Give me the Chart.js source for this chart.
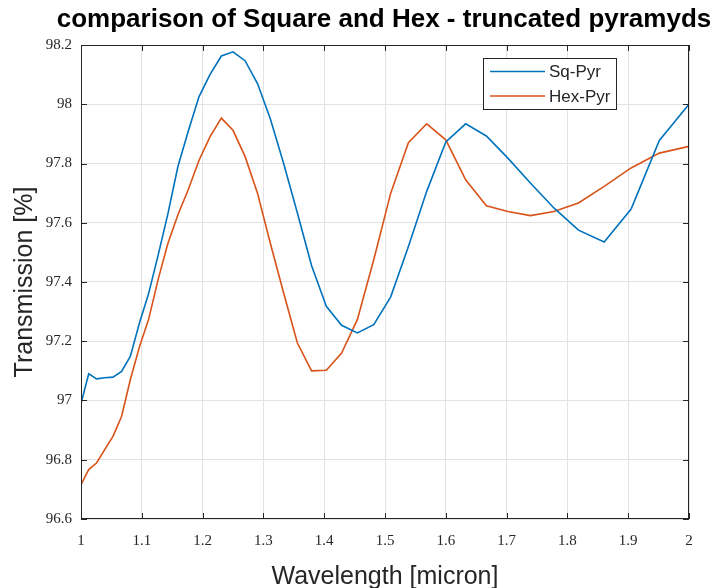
<!DOCTYPE html>
<html>
<head>
<meta charset="utf-8">
<title>comparison of Square and Hex - truncated pyramyds</title>
<script src="https://cdn.jsdelivr.net/npm/chart.js@4.4.1/dist/chart.umd.min.js"></script>
<style>
  html, body { margin: 0; padding: 0; background: #fff; }
  #wrap { width: 716px; height: 588px; }
</style>
</head>
<body>
<div id="wrap"><canvas id="transChart" width="716" height="588"></canvas></div>
<script>
// wavelength samples (micron)
const wavelength = [1.000, 1.0127, 1.0256, 1.0390, 1.0526, 1.0667, 1.0811, 1.0959, 1.1111, 1.1268,
    1.1429, 1.1594, 1.1765, 1.1940, 1.2121, 1.2308, 1.2500, 1.2698, 1.2903, 1.3115,
    1.3333, 1.3559, 1.3793, 1.4035, 1.4286, 1.4545, 1.4815, 1.5094, 1.5385, 1.5686,
    1.6000, 1.6327, 1.6667, 1.7021, 1.7391, 1.7778, 1.8182, 1.8605, 1.9048, 1.9512, 2.000];

// transmission [%] for the square pyramids
const sqPyr = [96.99, 97.09, 97.073, 97.077, 97.079, 97.098, 97.149, 97.26, 97.36, 97.49,
    97.63, 97.79, 97.91, 98.025, 98.10, 98.163, 98.177, 98.147, 98.07, 97.95,
    97.80, 97.633, 97.455, 97.318, 97.254, 97.228, 97.256, 97.35, 97.52, 97.706,
    97.873, 97.934, 97.893, 97.818, 97.734, 97.65, 97.575, 97.535, 97.646, 97.878, 98.0];

// transmission [%] for the hexagonal pyramids
const hexPyr = [96.716, 96.767, 96.789, 96.834, 96.879, 96.946, 97.07, 97.18, 97.273, 97.408,
    97.53, 97.627, 97.712, 97.81, 97.89, 97.953, 97.912, 97.824, 97.70, 97.53,
    97.363, 97.194, 97.10, 97.102, 97.16, 97.273, 97.475, 97.70, 97.87, 97.934,
    97.88, 97.745, 97.657, 97.638, 97.624, 97.638, 97.667, 97.723, 97.785, 97.835, 97.858];

const seriesNames = ['Sq-Pyr', 'Hex-Pyr'];
const seriesColors = ['#0072BD', '#D95319'];

const xTickValues = [1, 1.1, 1.2, 1.3, 1.4, 1.5, 1.6, 1.7, 1.8, 1.9, 2];
const xTickLabels = ['1', '1.1', '1.2', '1.3', '1.4', '1.5', '1.6', '1.7', '1.8', '1.9', '2'];
const yTickValues = [96.6, 96.8, 97, 97.2, 97.4, 97.6, 97.8, 98, 98.2];
const yTickLabels = ['96.6', '96.8', '97', '97.2', '97.4', '97.6', '97.8', '98', '98.2'];

const axisColor = '#262626';
const gridColor = '#e3e3e3';
const tickFont = { family: '"Liberation Serif", "DejaVu Serif", serif', size: 15 };

function toPoints(values) {
    return wavelength.map((w, i) => ({ x: w, y: values[i] }));
}

// Title, box frame, inward tick marks and the boxed legend
const matlabAxes = {
    id: 'matlabAxes',
    afterDraw(chart) {
        const { ctx, chartArea: a, scales: { x, y } } = chart;
        ctx.save();

        // title
        ctx.fillStyle = '#000';
        ctx.font = 'bold 26px "Liberation Sans", Arial, sans-serif';
        ctx.textAlign = 'center';
        ctx.textBaseline = 'middle';
        ctx.fillText('comparison of Square and Hex - truncated pyramyds', (a.left + a.right) / 2 - 1, 20);

        // frame
        ctx.strokeStyle = axisColor;
        ctx.lineWidth = 1;
        ctx.strokeRect(a.left + 0.5, a.top + 0.5, a.right - a.left - 1, a.bottom - a.top - 1);

        // inward ticks
        const tl = 6;
        ctx.beginPath();
        xTickValues.forEach(v => {
            const px = Math.round(x.getPixelForValue(v)) + 0.5;
            ctx.moveTo(px, a.bottom); ctx.lineTo(px, a.bottom - tl);
            ctx.moveTo(px, a.top); ctx.lineTo(px, a.top + tl);
        });
        yTickValues.forEach(v => {
            const py = Math.round(y.getPixelForValue(v)) + 0.5;
            ctx.moveTo(a.left, py); ctx.lineTo(a.left + tl, py);
            ctx.moveTo(a.right, py); ctx.lineTo(a.right - tl, py);
        });
        ctx.stroke();

        // legend box
        const bx = a.right - 206, by = a.top + 13, bw = 133, bh = 51;
        ctx.fillStyle = '#fff';
        ctx.fillRect(bx, by, bw, bh);
        ctx.strokeStyle = axisColor;
        ctx.strokeRect(bx + 0.5, by + 0.5, bw, bh);
        ctx.font = '17px "Liberation Sans", Arial, sans-serif';
        ctx.textAlign = 'left';
        ctx.textBaseline = 'middle';
        chart.data.datasets.forEach((ds, i) => {
            const ly = by + 13.5 + i * 24.5;
            ctx.strokeStyle = ds.borderColor;
            ctx.lineWidth = 1.6;
            ctx.beginPath();
            ctx.moveTo(bx + 7, ly);
            ctx.lineTo(bx + 62, ly);
            ctx.stroke();
            ctx.fillStyle = axisColor;
            ctx.fillText(ds.label, bx + 66, ly + 1);
        });
        ctx.restore();
    }
};

const ctx = document.getElementById('transChart').getContext('2d');
new Chart(ctx, {
    type: 'line',
    data: {
        datasets: seriesNames.map((name, i) => ({
            label: name,
            data: toPoints(i === 0 ? sqPyr : hexPyr),
            borderColor: seriesColors[i],
            borderWidth: 1.6,
            pointRadius: 0,
            tension: 0,
            fill: false
        }))
    },
    options: {
        responsive: false,
        animation: false,
        events: [],
        layout: { padding: { top: 45, right: 27, left: 0, bottom: 0 } },
        plugins: {
            legend: { display: false },
            title: { display: false },
            tooltip: { enabled: false }
        },
        scales: {
            x: {
                type: 'linear',
                min: 1,
                max: 2,
                afterBuildTicks: s => { s.ticks = xTickValues.map(v => ({ value: v })); },
                afterFit: s => { s.height = 69; },
                grid: { color: gridColor, drawTicks: false },
                border: { display: false },
                ticks: {
                    font: tickFont,
                    color: axisColor,
                    padding: 13,
                    maxRotation: 0,
                    autoSkip: false,
                    callback: (v, i) => xTickLabels[i]
                },
                title: {
                    display: true,
                    text: 'Wavelength [micron]',
                    color: axisColor,
                    font: { family: '"Liberation Sans", Arial, sans-serif', size: 25, lineHeight: 0.85 },
                    padding: { top: 0, bottom: 0 }
                }
            },
            y: {
                min: 96.6,
                max: 98.2,
                afterBuildTicks: s => { s.ticks = yTickValues.map(v => ({ value: v })); },
                afterFit: s => { s.width = 81; },
                grid: { color: gridColor, drawTicks: false },
                border: { display: false },
                ticks: {
                    font: tickFont,
                    color: axisColor,
                    padding: 9,
                    autoSkip: false,
                    callback: (v, i) => yTickLabels[i]
                },
                title: {
                    display: true,
                    text: 'Transmission [%]',
                    color: axisColor,
                    font: { family: '"Liberation Sans", Arial, sans-serif', size: 25, lineHeight: 1.2 },
                    padding: { top: 10, bottom: 0 }
                }
            }
        }
    },
    plugins: [matlabAxes]
});
</script>
</body>
</html>
